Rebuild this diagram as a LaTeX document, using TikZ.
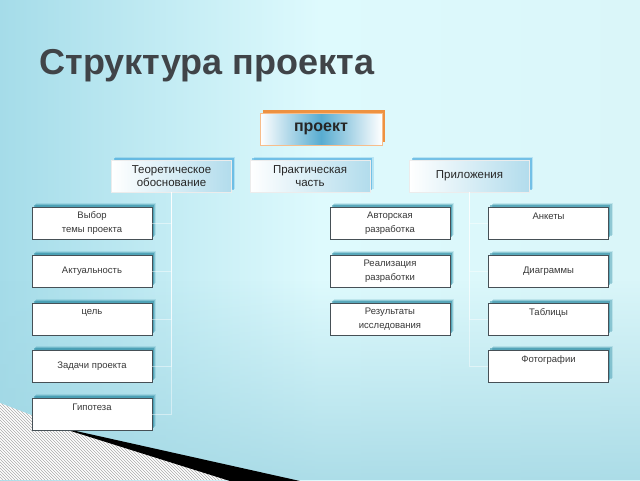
\documentclass[tikz,border=0pt]{standalone}
\usepackage{fontspec}
\setmainfont{Liberation Sans}
\usetikzlibrary{patterns,fadings,shadows}

\definecolor{bgleft}{RGB}{165,220,233}
\definecolor{bgmid}{RGB}{222,250,253}
\definecolor{bgright}{RGB}{218,246,249}
\definecolor{bgbottom}{RGB}{160,214,227}
\definecolor{titlegray}{RGB}{64,68,72}
\definecolor{boxedge}{RGB}{70,80,86}
\definecolor{leafglow}{RGB}{35,135,160}
\definecolor{branchglow}{RGB}{35,150,215}
\definecolor{branchfill}{RGB}{178,220,236}
\definecolor{rootmid}{RGB}{88,172,208}
\definecolor{rootshadow}{RGB}{240,135,45}

\tikzset{
  leaf/.style={draw=boxedge, line width=.7pt, fill=white,
    minimum width=120pt, minimum height=32pt, inner sep=1pt,
    align=center, text=black!78, font=\fontsize{9.5}{13.5}\selectfont,
    general shadow={fill=leafglow, opacity=.15, shadow xshift=4pt, shadow yshift=4pt},
    general shadow={fill=leafglow, opacity=.3, shadow xshift=3pt, shadow yshift=3pt},
    general shadow={fill=leafglow, opacity=.5, shadow xshift=1.8pt, shadow yshift=1.8pt}},
  branch/.style={draw=white!85!gray, line width=.5pt,
    left color=white, right color=branchfill,
    minimum width=120pt, minimum height=32pt, inner sep=1pt,
    align=center, text=black!85, font=\fontsize{11.5}{13}\selectfont,
    general shadow={fill=branchglow, opacity=.2, shadow xshift=3.5pt, shadow yshift=3.5pt},
    general shadow={fill=branchglow, opacity=.45, shadow xshift=2pt, shadow yshift=2pt}},
  root/.style={draw=rootshadow!55, line width=.6pt,
    left color=white, right color=white, middle color=rootmid,
    minimum width=122pt, minimum height=32pt,
    font=\bfseries\fontsize{16}{18}\selectfont, text=black!85,
    general shadow={fill=rootshadow, opacity=.9, shadow xshift=3pt, shadow yshift=3.5pt}},
  link/.style={white, opacity=.45, line width=.8pt}
}

\begin{document}
\begin{tikzpicture}[x=1pt,y=-1pt]
% background
\shade[left color=bgleft, right color=bgright, middle color=bgmid] (0,0) rectangle (640,480);
\fill[bgbottom, path fading=north, fill opacity=.8] (0,280) rectangle (640,480);
\useasboundingbox (0,0) rectangle (640,480);

% corner wedge
\fill[white] (0,403) -- (62,427) -- (232,480) -- (0,480) -- cycle;
\fill[pattern=north west lines, pattern color=gray!65] (0,403) -- (62,427) -- (232,480) -- (0,480) -- cycle;
\fill[black] (58,427) -- (300,481) -- (230,481) -- cycle;

% title
\node[anchor=base west, font=\bfseries\fontsize{36}{40}\selectfont, text=titlegray] (title) at (36,74) {Структура проекта};

% top levels
\node[root] (proj) at (321,129) {проект};
\node[branch] (teo) at (171.5,176) {Теоретическое\\обоснование};
\node[branch] (prak) at (310,176) {Практическая\\часть};
\node[branch] (pril) at (469.5,176) {Приложения};

% leaves
\foreach \nm/\y/\txt in {vyb/223/{Выбор\\темы проекта}, akt/271/{Актуальность}, cel/319/{цель\\~},
    zad/366/{Задачи проекта}, gip/414/{Гипотеза\\~}}
  \node[leaf] (\nm) at (92,\y) {\txt};
\foreach \nm/\y/\txt in {avt/223/{Авторская\\разработка}, rea/271/{Реализация\\разработки},
    res/319/{Результаты\\исследования}}
  \node[leaf] (\nm) at (390,\y) {\txt};
\foreach \nm/\y/\txt in {ank/223/{Анкеты\\~}, dia/271/{Диаграммы}, tab/319/{Таблицы\\~},
    foto/366/{Фотографии\\~}}
  \node[leaf] (\nm) at (548.5,\y) {\txt};

% faint connectors
\foreach \nm in {vyb,akt,cel,zad,gip}
  \draw[link] (teo.south) |- (\nm.east);
\foreach \nm in {ank,dia,tab,foto}
  \draw[link] (pril.south) |- (\nm.west);
\end{tikzpicture}
\end{document}
